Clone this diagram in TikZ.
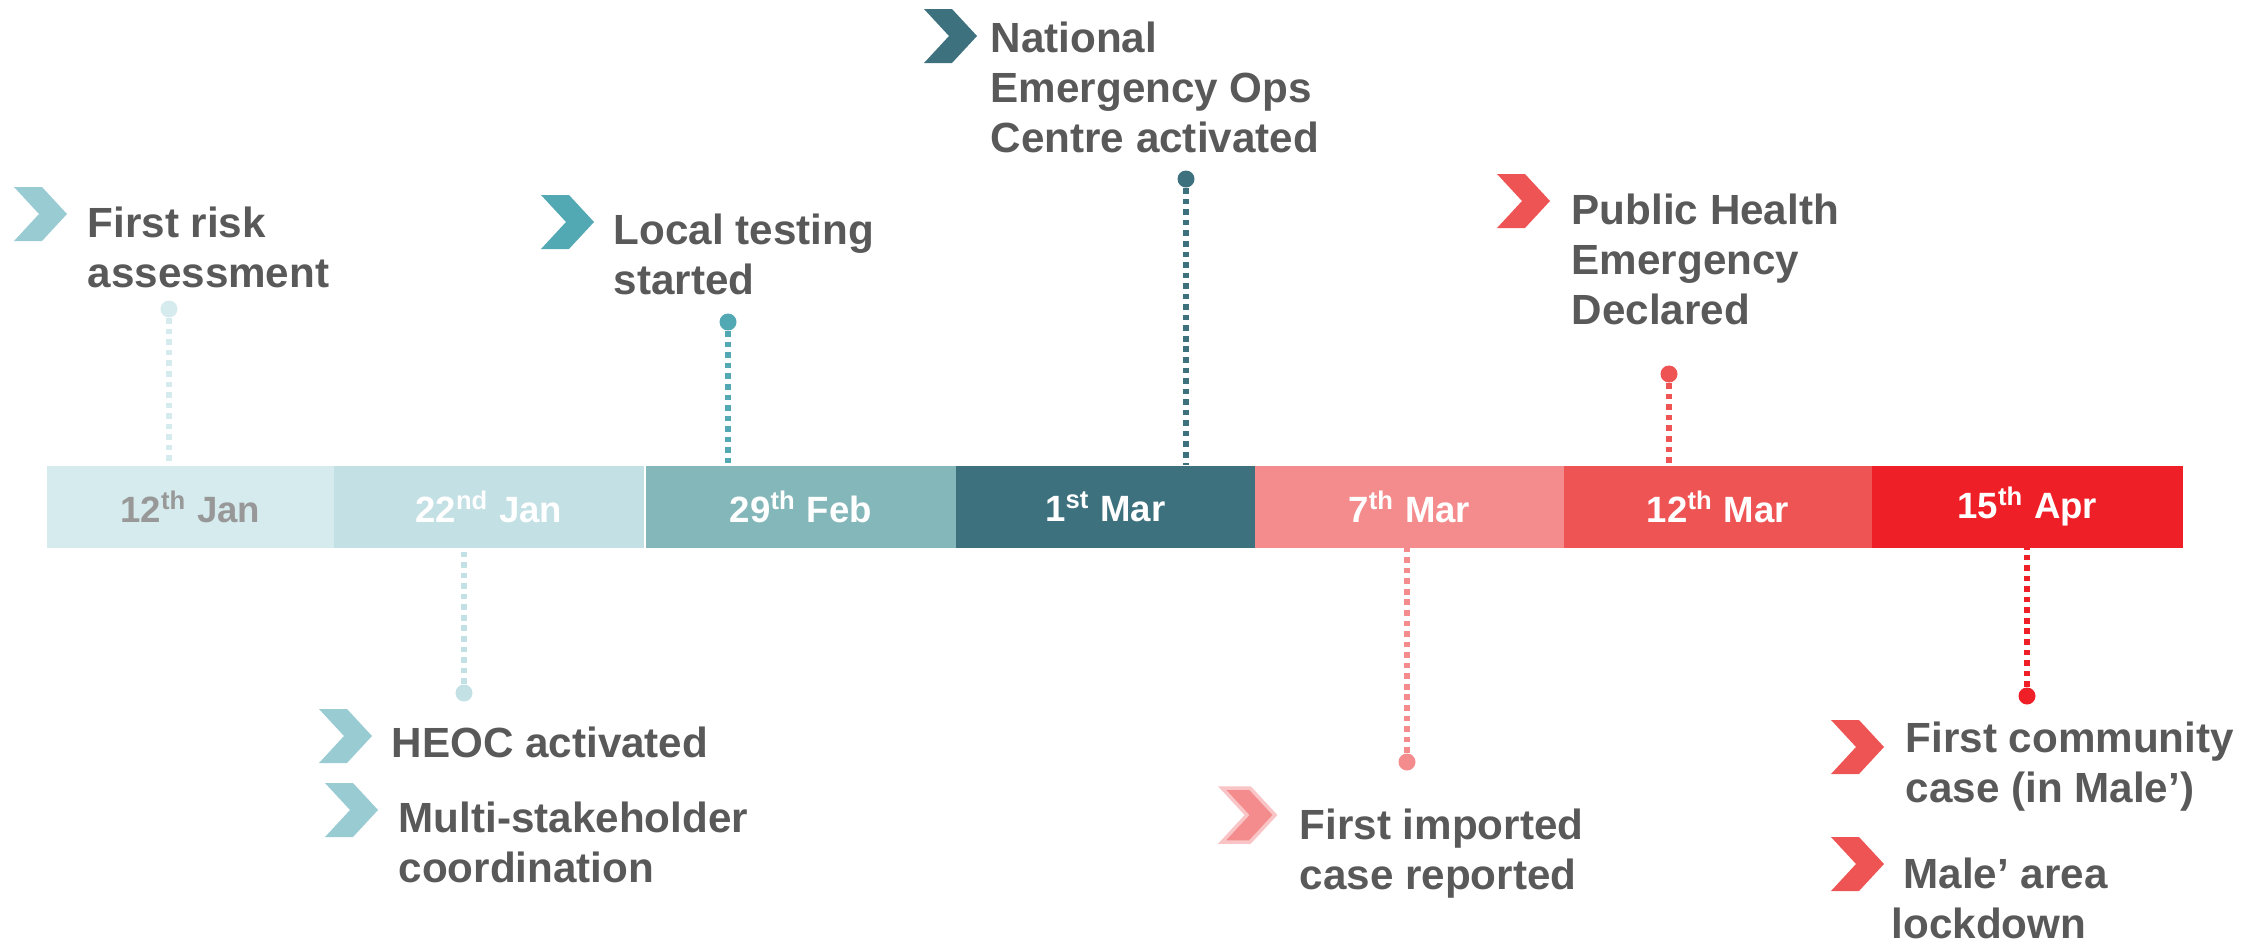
\documentclass[tikz,border=0pt]{standalone}
\usepackage{fontspec}
\setmainfont{Liberation Sans}
\usepackage{tikz}

\definecolor{txtgray}{HTML}{595959}
\definecolor{jangray}{HTML}{989898}
\definecolor{segA}{HTML}{D6EBEE}
\definecolor{segB}{HTML}{C3E0E4}
\definecolor{segC}{HTML}{84B7BA}
\definecolor{segD}{HTML}{3D717E}
\definecolor{segE}{HTML}{F48B8C}
\definecolor{segF}{HTML}{EF5455}
\definecolor{segG}{HTML}{EE1F26}
\definecolor{chevLt}{HTML}{99CBD2}
\definecolor{chevTeal}{HTML}{52A8B3}
\definecolor{chevEdge}{HTML}{F9C4C5}

\newcommand\evfont{\fontsize{12}{14.2}\selectfont\bfseries}
\newcommand\datefont{\fontsize{10.4}{12}\selectfont\bfseries}
% chevron: left x, top y, fill options
\newcommand\chevmark[3]{\path[#3] (#1,#2) -- ++(28,0) -- ++(25,27) -- ++(-25,27) -- ++(-28,0) -- ++(25,-27) -- cycle;}

\tikzset{
  seg/.style={rectangle, anchor=north west, inner sep=0, minimum height=0.82cm, text=white, font=\datefont},
  % placed at the baseline of the last line
  event/.style={anchor=base west, align=left, inner sep=0, text=txtgray, font=\evfont},
  dot/.style={circle, fill=#1, inner sep=0, minimum size=0.17cm},
  conn/.style={draw=#1, line width=1.5pt, dash pattern=on 1.6pt off 1.4pt}
}

\begin{document}
\begin{tikzpicture}[x=0.01cm, y=-0.01cm]
    \useasboundingbox (0,0) rectangle (2260,942);

    % the bar
    \node[seg, fill=segA, minimum width=2.87cm, text=jangray] (jan12) at (46,465) {12\textsuperscript{th} Jan};
    \node[seg, fill=segB, minimum width=3.10cm] (jan22) at (333,465) {22\textsuperscript{nd} Jan};
    \node[seg, fill=segC, minimum width=3.10cm] (feb29) at (645,465) {29\textsuperscript{th} Feb};
    \node[seg, fill=segD, minimum width=2.99cm] (mar1) at (955,465) {1\textsuperscript{st} Mar};
    \node[seg, fill=segE, minimum width=3.09cm] (mar7) at (1254,465) {7\textsuperscript{th} Mar};
    \node[seg, fill=segF, minimum width=3.08cm] (mar12) at (1563,465) {12\textsuperscript{th} Mar};
    \node[seg, fill=segG, minimum width=3.11cm] (apr15) at (1871,465) {15\textsuperscript{th} Apr};

    % pins
    \node[dot=segA] (pjan12) at (169,309) {};
    \node[dot=segB] (pjan22) at (464,693) {};
    \node[dot=chevTeal] (pfeb29) at (728,322) {};
    \node[dot=segD] (pmar1) at (1186,179) {};
    \node[dot=segE] (pmar7) at (1407,762) {};
    \node[dot=segF] (pmar12) at (1669,374) {};
    \node[dot=segG] (papr15) at (2027,696) {};
    \draw[conn=segA] (pjan12) -- (pjan12 |- jan12.north);
    \draw[conn=segB] (pjan22) -- (pjan22 |- jan22.south);
    \draw[conn=chevTeal] (pfeb29) -- (pfeb29 |- feb29.north);
    \draw[conn=segD] (pmar1) -- (pmar1 |- mar1.north);
    \draw[conn=segE] (pmar7) -- (pmar7 |- mar7.south);
    \draw[conn=segF] (pmar12) -- (pmar12 |- mar12.north);
    \draw[conn=segG] (papr15) -- (papr15 |- apr15.south);

    % events
    \chevmark{14}{187}{fill=chevLt}
    \node[event] (risk) at (87,287) {First risk\\assessment};
    \chevmark{541}{195}{fill=chevTeal}
    \node[event] (testing) at (613,294) {Local testing\\started};
    \chevmark{924}{9}{fill=segD}
    \node[event] (neoc) at (990,152) {National\\Emergency Ops\\Centre activated};
    \chevmark{1497}{174}{fill=segF}
    \node[event] (phe) at (1571,324) {Public Health\\Emergency\\Declared};
    \chevmark{319}{709}{fill=chevLt}
    \node[event] (heoc) at (391,757) {HEOC activated};
    \chevmark{325}{783}{fill=chevLt}
    \node[event] (multi) at (398,882) {Multi-stakeholder\\coordination};
    \chevmark{1222}{788}{fill=segE, draw=chevEdge, line width=1pt}
    \node[event] (imported) at (1299,889) {First imported\\case reported};
    \chevmark{1831}{720}{fill=segF}
    \node[event] (community) at (1905,802) {First community\\case (in Male’)};
    \chevmark{1831}{837}{fill=segF}
    \node[event] (lockdown) at (1891,938) {~Male’ area\\lockdown};
\end{tikzpicture}
\end{document}
